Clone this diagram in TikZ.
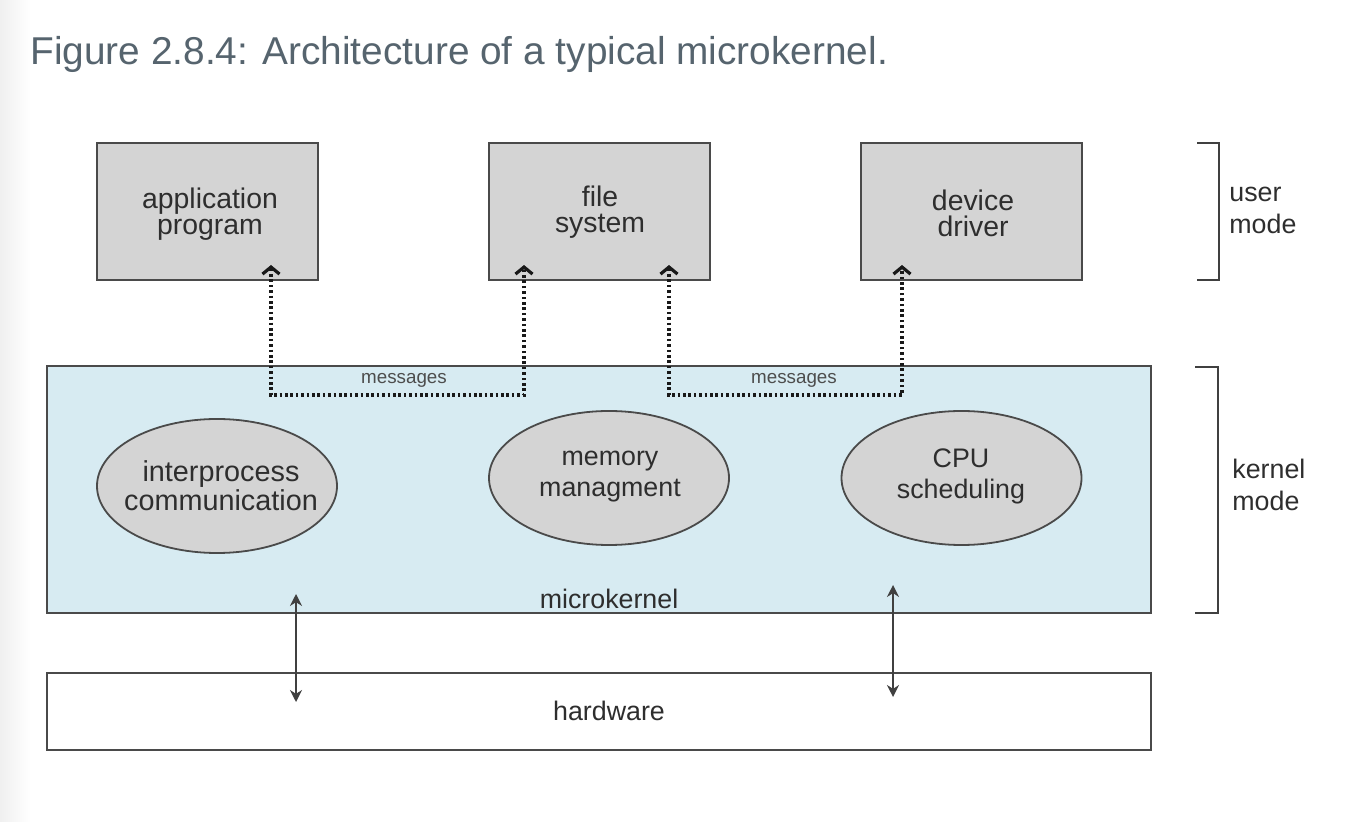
\documentclass[tikz,border=0pt]{standalone}
\usepackage{fontspec}
\setmainfont{Liberation Sans}
\usetikzlibrary{arrows.meta,shapes.geometric}
\definecolor{boxgray}{HTML}{D4D4D4}
\definecolor{kblue}{HTML}{D7EBF2}
\definecolor{edgec}{HTML}{4A4A4A}
\definecolor{titlec}{HTML}{56646E}
\definecolor{txtc}{HTML}{2E2E2E}
\begin{document}
\begin{tikzpicture}[x=0.5pt,y=-0.5pt,
  ubox/.style={draw=edgec,line width=0.9pt,fill=boxgray,minimum width=110.5pt,minimum height=68.5pt,inner sep=0pt},
  boxtxt/.style={align=center,text=txtc,font=\fontsize{14.2}{13}\selectfont,inner sep=0pt},
  oval/.style={ellipse,draw=edgec,line width=0.9pt,fill=boxgray,minimum width=120pt,minimum height=67pt,inner sep=0pt},
  ovaltxt/.style={align=center,text=txtc,font=\fontsize{13.4}{15.5}\selectfont,inner sep=0pt},
  bigbox/.style={draw=edgec,line width=0.9pt,minimum width=552pt,inner sep=0pt},
  lbl/.style={text=txtc,font=\fontsize{13.4}{16}\selectfont,inner sep=0pt},
  msglbl/.style={text=txtc!85,font=\fontsize{9.4}{10}\selectfont,inner sep=0pt},
  msg/.style={line width=1.7pt,dash pattern=on 1.3pt off 1.4pt,draw=black!90,
    {Straight Barb[length=3.5pt,width=8.5pt,line width=1.6pt]}-{Straight Barb[length=3.5pt,width=8.5pt,line width=1.6pt]}},
  hwarrow/.style={line width=0.9pt,draw=black!75,{Stealth[length=6pt,width=6pt]}-{Stealth[length=6pt,width=6pt]}},
  bracketline/.style={line width=1pt,draw=black!75},
  modelbl/.style={text=txtc,font=\fontsize{13.4}{16}\selectfont,inner sep=0pt,align=left,anchor=west}
]
\useasboundingbox (0,0) rectangle (1348,822);
\shade[left color=black!6,right color=white,draw=none] (0,0) rectangle (30,822);

% title
\node[anchor=base west,inner sep=0pt,text=titlec,font=\fontsize{19.4}{22}\selectfont] (title) at (30,65) {Figure 2.8.4: Architecture of a typical microkernel.};

% kernel and hardware
\node[bigbox,fill=kblue,minimum height=123.5pt] (kern) at (599,489.5) {};
\node[bigbox,fill=white,minimum height=38.5pt] (hw) at (599,711.5) {};
\node[lbl] (kernlbl) at (609,599) {microkernel};
\node[lbl] (hwlbl) at (609,711) {hardware};

% user boxes
\node[ubox] (ap) at (207.5,211.5) {};
\node[ubox] (fs) at (599.5,211.5) {};
\node[ubox] (dd) at (971.5,211.5) {};
\node[boxtxt] (aptxt) at (210,214) {application\\program};
\node[boxtxt] (fstxt) at (600,212) {file\\system};
\node[boxtxt] (ddtxt) at (973,213) {device\\driver};

% kernel services
\node[oval] (ipc) at (217,486) {};
\node[oval] (mem) at (609,478) {};
\node[oval] (cpu) at (961.5,478) {};
\node[ovaltxt,font=\fontsize{14.4}{14.5}\selectfont] (ipctxt) at (221,486) {interprocess\\communication};
\node[ovaltxt] (memtxt) at (610,477) {memory\\managment};
\node[ovaltxt] (cputxt) at (961,476) {CPU\\scheduling};

% messages
\coordinate (m1s) at (271,265);
\coordinate (m1e) at (524,265);
\coordinate (m2s) at (669,265);
\coordinate (m2e) at (902,265);
\draw[msg] (m1s) |- (524,395) -- (m1e);
\draw[msg] (m2s) |- (902,395) -- (m2e);
\node[msglbl] (msg1) at (404,380) {messages};
\node[msglbl] (msg2) at (794,380) {messages};

% hardware arrows
\coordinate (h1a) at (296,594);
\coordinate (h1b) at (296,702);
\coordinate (h2a) at (893,585);
\coordinate (h2b) at (893,697);
\draw[hwarrow] (h1a) -- (h1b);
\draw[hwarrow] (h2a) -- (h2b);

% mode brackets
\draw[bracketline] (1197,143) -- (1219,143) -- (1219,280) -- (1197,280);
\draw[bracketline] (1195,367) -- (1218,367) -- (1218,613) -- (1195,613);
\node[modelbl] (um) at (1229,210) {user\\mode};
\node[modelbl] (km) at (1232,485) {kernel\\mode};
\end{tikzpicture}
\end{document}
